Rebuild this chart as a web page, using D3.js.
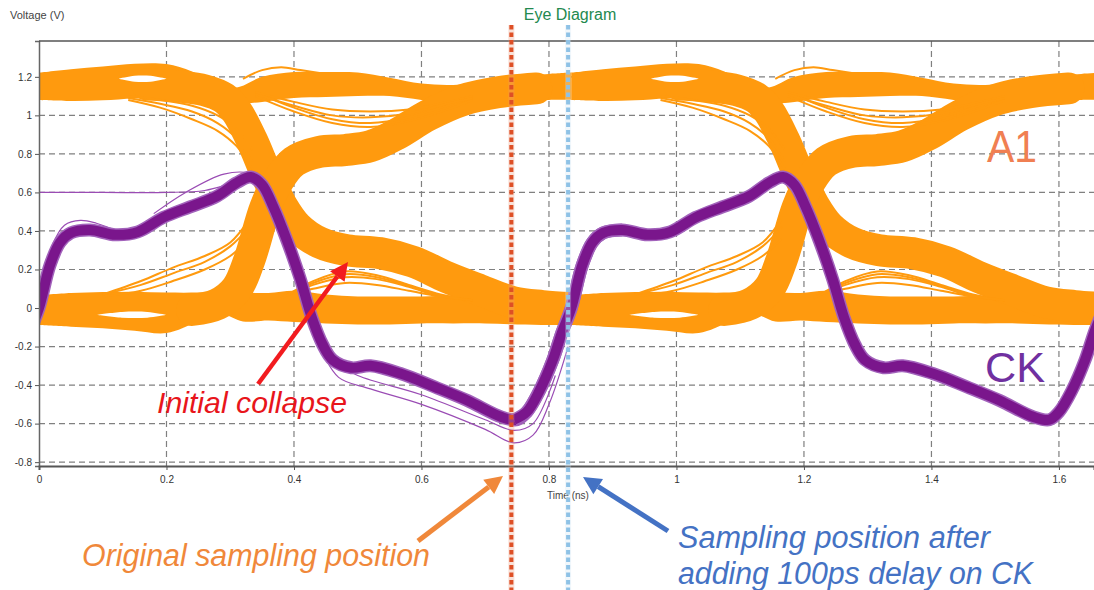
<!DOCTYPE html>
<html>
<head>
<meta charset="utf-8">
<script src="https://cdn.jsdelivr.net/npm/d3@7"></script>
<style>
  body { margin: 0; background: #fff; }
  svg { display: block; font-family: "Liberation Sans", Arial, sans-serif; }
</style>
</head>
<body>
<script>
// ---- axes ----
const xTicks = [0, 0.2, 0.4, 0.6, 0.8, 1, 1.2, 1.4, 1.6];
const xTickLabels = ["0", "0.2", "0.4", "0.6", "0.8", "1", "1.2", "1.4", "1.6"];
const yTicks = [-0.8, -0.6, -0.4, -0.2, 0, 0.2, 0.4, 0.6, 0.8, 1, 1.2];
const yTickLabels = ["-0.8", "-0.6", "-0.4", "-0.2", "0", "0.2", "0.4", "0.6", "0.8", "1", "1.2"];

// eye is folded over two unit intervals (ns)
const foldOffsets = [0, 0.835];

// ---- A1 (orange) bands, one unit interval ----
const highT  = [0, 0.05, 0.1, 0.15, 0.2, 0.24, 0.28, 0.31, 0.35, 0.4, 0.45, 0.5, 0.55, 0.6, 0.65, 0.7, 0.75, 0.8, 0.835];
const highHi = [1.222, 1.24, 1.253, 1.268, 1.266, 1.228, 1.16, 1.145, 1.2, 1.225, 1.225, 1.222, 1.195, 1.165, 1.158, 1.175, 1.2, 1.215, 1.222];
const highLo = [1.08, 1.075, 1.078, 1.088, 1.085, 1.09, 1.07, 1.06, 1.07, 1.09, 1.095, 1.1, 1.1, 1.08, 1.06, 1.05, 1.068, 1.08, 1.08];

const lowT  = [0, 0.05, 0.1, 0.15, 0.2, 0.25, 0.285, 0.32, 0.36, 0.4, 0.45, 0.5, 0.55, 0.6, 0.65, 0.7, 0.75, 0.8, 0.835];
const lowHi = [0.067, 0.078, 0.083, 0.085, 0.08, 0.08, 0.085, 0.08, 0.078, 0.09, 0.07, 0.06, 0.06, 0.06, 0.065, 0.06, 0.06, 0.065, 0.067];
const lowLo = [-0.088, -0.097, -0.105, -0.118, -0.13, -0.07, -0.03, -0.07, -0.065, -0.073, -0.08, -0.085, -0.085, -0.08, -0.08, -0.08, -0.085, -0.088, -0.088];

// falling edge that collapses onto the ~0.3 V shelf
const fallT = [0.17, 0.22, 0.26, 0.29, 0.31, 0.334, 0.356, 0.381, 0.405, 0.44, 0.483, 0.535, 0.587, 0.64, 0.692, 0.744, 0.79, 0.835];
const fallV = [1.16, 1.15, 1.13, 1.09, 1.02, 0.87, 0.70, 0.53, 0.42, 0.34, 0.30, 0.285, 0.24, 0.16, 0.093, 0.03, 0.01, 0.0];

// rising edge
const riseT = [0.24, 0.28, 0.31, 0.33, 0.355, 0.375, 0.40, 0.44, 0.48, 0.52, 0.56, 0.61, 0.665, 0.72, 0.78];
const riseV = [-0.01, 0.02, 0.1, 0.25, 0.52, 0.66, 0.76, 0.81, 0.82, 0.84, 0.9, 1.0, 1.08, 1.12, 1.14];

// thin stray traces
const dipT = [0.34, 0.4, 0.46, 0.52, 0.58, 0.64, 0.68];
const dip1 = [1.12, 1.04, 0.98, 0.96, 0.99, 1.05, 1.09];
const dip2 = [1.1, 1.02, 0.96, 0.94, 0.97, 1.03, 1.08];
const dip3 = [1.12, 1.07, 1.03, 1.02, 1.03, 1.07, 1.1];
const dip4 = [1.11, 1.05, 1.0, 0.99, 1.01, 1.06, 1.09];

const bumpT = [0.38, 0.43, 0.48, 0.53, 0.58, 0.63, 0.68];
const bump1 = [0.05, 0.14, 0.19, 0.17, 0.12, 0.07, 0.04];
const bump2 = [0.05, 0.12, 0.16, 0.15, 0.11, 0.06, 0.04];
const bump3 = [0.06, 0.10, 0.13, 0.12, 0.09, 0.06, 0.04];
const bump4 = [0.05, 0.13, 0.175, 0.16, 0.115, 0.065, 0.04];

const preRiseT = [0.1, 0.16, 0.21, 0.26, 0.3, 0.33];
const preRise1 = [0.07, 0.12, 0.18, 0.24, 0.32, 0.42];
const preRise2 = [0.06, 0.09, 0.14, 0.2, 0.27, 0.36];
const preRise3 = [0.07, 0.14, 0.21, 0.27, 0.34, 0.46];

const preFallT = [0.14, 0.19, 0.24, 0.28, 0.31, 0.335];
const preFall1 = [1.09, 1.06, 1.02, 0.96, 0.88, 0.76];
const preFall2 = [1.08, 1.04, 0.98, 0.92, 0.84, 0.72];
const preFall3 = [1.1, 1.08, 1.05, 1.0, 0.93, 0.82];

const topBumpT = [0.32, 0.35, 0.38, 0.41, 0.44];
const topBumpV = [1.19, 1.235, 1.25, 1.235, 1.22];

// open gaps inside the bands
const gapHighT = [0.125, 0.15, 0.175, 0.2];
const gapHighLo = [1.19, 1.175, 1.175, 1.19];
const gapHighHi = [1.19, 1.205, 1.205, 1.19];
const gapLowT = [0.09, 0.13, 0.17, 0.2];
const gapLowLo = [-0.035, -0.05, -0.05, -0.035];
const gapLowHi = [-0.035, -0.02, -0.02, -0.035];

// ---- CK (purple) ----
const ckT = [-0.09, -0.07, -0.05, -0.029, -0.015, 0, 0.017, 0.033, 0.05, 0.08, 0.12, 0.155, 0.195, 0.237, 0.279, 0.31, 0.332, 0.35, 0.367, 0.389, 0.41, 0.428, 0.445, 0.461, 0.49, 0.52, 0.567, 0.621, 0.672, 0.725, 0.75, 0.765, 0.785, 0.806, 0.82, 0.835, 0.852, 0.868, 0.885, 0.915];
const ckV = [-0.58, -0.54, -0.43, -0.27, -0.13, 0.0, 0.22, 0.34, 0.39, 0.405, 0.38, 0.395, 0.47, 0.525, 0.58, 0.65, 0.68, 0.64, 0.53, 0.35, 0.15, -0.05, -0.19, -0.27, -0.31, -0.3, -0.34, -0.41, -0.48, -0.565, -0.58, -0.54, -0.43, -0.27, -0.13, 0.0, 0.22, 0.34, 0.39, 0.405];

// CK outliers (first interval only)
const ckFlatT = [0, 0.1, 0.2, 0.26, 0.3, 0.33];
const ckFlatV = [0.6, 0.6, 0.6, 0.61, 0.645, 0.675];
const ckHighT = [0.18, 0.23, 0.29, 0.33, 0.35];
const ckHighV = [0.49, 0.6, 0.695, 0.70, 0.66];
const ckEarlyT = [0.005, 0.02, 0.04, 0.065, 0.09, 0.115];
const ckEarlyV = [0.12, 0.32, 0.43, 0.455, 0.44, 0.41];
const ckLow1T = [0.44, 0.47, 0.52, 0.6, 0.7, 0.745, 0.775, 0.8, 0.83];
const ckLow1V = [-0.2, -0.36, -0.42, -0.5, -0.63, -0.70, -0.66, -0.5, -0.2];
const ckLow2T = [0.45, 0.5, 0.6, 0.7, 0.745, 0.775, 0.81];
const ckLow2V = [-0.26, -0.35, -0.45, -0.58, -0.635, -0.6, -0.35];

// sampling positions (ns)
const sampleTimes = [0.741, 0.83];
const sampleDot = ["#de4f25", "#8fc2e6"];
const sampleStrip = ["#e8987c", "#cfe3f3"];

// ---- drawing ----
const width = 1094, height = 590;
const svg = d3.select("body").append("svg")
  .attr("width", width)
  .attr("height", height);

const x = d3.scaleLinear().domain([0, 1.655]).range([39, 1094]);
const y = d3.scaleLinear().domain([-0.82, 1.386]).range([466, 41]);

const zip = (ts, vs) => ts.map((t, i) => ({t: t, v: vs[i]}));
const zip2 = (ts, lo, hi) => ts.map((t, i) => ({t: t, lo: lo[i], hi: hi[i]}));

// grid
svg.append("g").selectAll("line")
  .data(yTicks)
  .join("line")
  .attr("x1", x(0)).attr("x2", width)
  .attr("y1", d => y(d)).attr("y2", d => y(d))
  .attr("stroke", "#808080")
  .attr("stroke-width", 1.2)
  .attr("stroke-dasharray", "6,4");

svg.append("g").selectAll("line")
  .data(xTicks.slice(1))
  .join("line")
  .attr("x1", d => x(d)).attr("x2", d => x(d))
  .attr("y1", y.range()[1]).attr("y2", y.range()[0])
  .attr("stroke", "#808080")
  .attr("stroke-width", 1.2)
  .attr("stroke-dasharray", "6,4");

svg.append("clipPath").attr("id", "plot")
  .append("rect")
  .attr("x", x(0)).attr("y", y.range()[1])
  .attr("width", width - x(0)).attr("height", y.range()[0] - y.range()[1]);

const plot = svg.append("g").attr("clip-path", "url(#plot)");

const orange = "#ff9a0e";
const purple = "#7a168c";

foldOffsets.forEach(off => {
  const area = d3.area()
    .x(d => x(d.t + off))
    .y0(d => y(d.lo))
    .y1(d => y(d.hi))
    .curve(d3.curveCatmullRom);
  const line = d3.line()
    .x(d => x(d.t + off))
    .y(d => y(d.v))
    .curve(d3.curveCatmullRom);

  const g = plot.append("g");

  g.append("path").attr("d", area(zip2(highT, highLo, highHi))).attr("fill", orange);
  g.append("path").attr("d", area(zip2(lowT, lowLo, lowHi))).attr("fill", orange);

  [[fallT, fallV], [riseT, riseV]].forEach(([ts, vs]) => {
    g.append("path")
      .attr("d", line(zip(ts, vs)))
      .attr("fill", "none")
      .attr("stroke", orange)
      .attr("stroke-width", 32)
      .attr("stroke-linecap", "round")
      .attr("stroke-linejoin", "round");
  });

  const thin = [
    [dipT, dip1], [dipT, dip2], [dipT, dip3], [dipT, dip4],
    [bumpT, bump1], [bumpT, bump2], [bumpT, bump3], [bumpT, bump4],
    [preRiseT, preRise1], [preRiseT, preRise2], [preRiseT, preRise3],
    [preFallT, preFall1], [preFallT, preFall2], [preFallT, preFall3],
    [topBumpT, topBumpV]
  ];
  thin.forEach(([ts, vs]) => {
    g.append("path")
      .attr("d", line(zip(ts, vs)))
      .attr("fill", "none")
      .attr("stroke", orange)
      .attr("stroke-width", 2);
  });

  g.append("path").attr("d", area(zip2(gapHighT, gapHighLo, gapHighHi))).attr("fill", "#fff");
  g.append("path").attr("d", area(zip2(gapLowT, gapLowLo, gapLowHi))).attr("fill", "#fff");
});

// CK
foldOffsets.forEach((off, k) => {
  const line = d3.line()
    .x(d => x(d.t + off))
    .y(d => y(d.v))
    .curve(d3.curveCatmullRom);
  if (k === 0) {
    [[ckFlatT, ckFlatV], [ckHighT, ckHighV], [ckEarlyT, ckEarlyV], [ckLow1T, ckLow1V], [ckLow2T, ckLow2V]]
      .forEach(([ts, vs]) => {
        plot.append("path")
          .attr("d", line(zip(ts, vs)))
          .attr("fill", "none")
          .attr("stroke", "#9a4cb4")
          .attr("stroke-width", 1.2);
      });
  }
  plot.append("path")
    .attr("d", line(zip(ckT, ckV)))
    .attr("fill", "none")
    .attr("stroke", "#a262bb")
    .attr("stroke-width", 13)
    .attr("stroke-linejoin", "round");
  plot.append("path")
    .attr("d", line(zip(ckT, ckV)))
    .attr("fill", "none")
    .attr("stroke", purple)
    .attr("stroke-width", 10)
    .attr("stroke-linejoin", "round");
});

// axes
const yAxis = svg.append("g")
  .attr("transform", `translate(${x(0)},0)`)
  .call(d3.axisLeft(y).tickValues(yTicks).tickSize(4).tickPadding(3)
    .tickFormat((d, i) => yTickLabels[i]));
const xAxis = svg.append("g")
  .attr("transform", `translate(0,${y.range()[0]})`)
  .call(d3.axisBottom(x).tickValues(xTicks).tickSize(4).tickPadding(6)
    .tickFormat((d, i) => xTickLabels[i]));

[yAxis, xAxis].forEach(a => {
  a.selectAll("text").attr("font-family", "Liberation Sans, Arial, sans-serif")
    .attr("font-size", 10).attr("fill", "#333");
  a.selectAll(".tick line").attr("stroke", "#555");
});
yAxis.select(".domain").attr("stroke", "#666").attr("stroke-width", 1.5);
xAxis.select(".domain").attr("stroke", "#555").attr("stroke-width", 2);

svg.append("line")
  .attr("x1", x(0)).attr("x2", width)
  .attr("y1", y.range()[1]).attr("y2", y.range()[1])
  .attr("stroke", "#555").attr("stroke-width", 1.5);

svg.append("text").attr("x", 10).attr("y", 19)
  .attr("font-size", 11).attr("fill", "#444").text("Voltage (V)");
svg.append("text").attr("x", 568).attr("y", 499).attr("text-anchor", "middle")
  .attr("font-size", 10).attr("fill", "#444").text("Time (ns)");
svg.append("text").attr("x", 570).attr("y", 20).attr("text-anchor", "middle")
  .attr("font-size", 16).attr("fill", "#23894f").text("Eye Diagram");

// sampling markers
svg.append("g").selectAll("rect")
  .data(sampleTimes)
  .join("rect")
  .attr("x", d => x(d) - 3).attr("width", 6)
  .attr("y", 25).attr("height", height - 25)
  .attr("fill", (d, i) => sampleStrip[i])
  .attr("opacity", 0.3);
svg.append("g").selectAll("line")
  .data(sampleTimes)
  .join("line")
  .attr("x1", d => x(d)).attr("x2", d => x(d))
  .attr("y1", 25).attr("y2", height)
  .attr("stroke", (d, i) => sampleDot[i])
  .attr("stroke-width", 4)
  .attr("stroke-dasharray", "4.5,3");

// annotations
function arrow(x1, y1, x2, y2, color, w) {
  const a = Math.atan2(y2 - y1, x2 - x1), L = 18, H = 9;
  const bx = x2 - L * Math.cos(a), by = y2 - L * Math.sin(a);
  svg.append("line")
    .attr("x1", x1).attr("y1", y1).attr("x2", bx).attr("y2", by)
    .attr("stroke", color).attr("stroke-width", w);
  svg.append("path")
    .attr("d", `M${x2},${y2}L${bx - H * Math.sin(a)},${by + H * Math.cos(a)}L${bx + H * Math.sin(a)},${by - H * Math.cos(a)}Z`)
    .attr("fill", color);
}
arrow(258, 384, 348, 262, "#f21b1f", 4.5);
arrow(418, 541, 503, 476, "#f0883a", 5);
arrow(668, 531, 583, 477, "#4472c4", 5);

function label(txt, px, py, size, color, len, italic) {
  svg.append("text")
    .attr("x", px).attr("y", py)
    .attr("font-size", size)
    .attr("font-style", italic ? "italic" : "normal")
    .attr("fill", color)
    .attr("textLength", len)
    .attr("lengthAdjust", "spacingAndGlyphs")
    .text(txt);
}
label("A1", 987, 162, 44, "#f07f52", 50, false);
label("CK", 985, 382, 42, "#7030a0", 60, false);
label("Initial collapse", 157, 413, 29, "#e8151b", 190, true);
label("Original sampling position", 82, 566, 31, "#f0883a", 348, true);
label("Sampling position after", 678, 548, 31, "#4472c4", 312, true);
label("adding 100ps delay on CK", 678, 584, 31, "#4472c4", 355, true);
</script>
</body>
</html>
